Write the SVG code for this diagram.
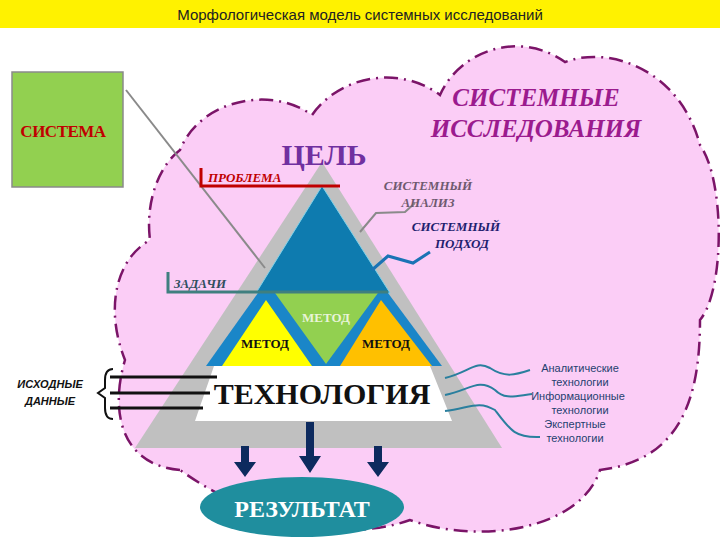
<svg xmlns="http://www.w3.org/2000/svg" width="720" height="540" viewBox="0 0 720 540">
<style>
.serif{font-family:"Liberation Serif","DejaVu Serif",serif;font-weight:bold}
.sans{font-family:"Liberation Sans","DejaVu Sans",sans-serif}
.tech{font-family:"Liberation Sans",sans-serif;font-size:11px;fill:#1F3F6F;text-anchor:middle}
.arrow{fill:#0D2A5E}
</style>
<rect width="720" height="540" fill="#fff"/>
<rect x="0" y="0" width="720" height="28" fill="#FFF200"/>
<text x="360" y="20" class="sans" font-size="15" text-anchor="middle" fill="#222">Морфологическая модель системных исследований</text>
<g id="cloud">
<path d="M180,470 C120,465 110,410 125,360 C105,310 115,260 150,240 C145,200 160,165 180,150 C200,100 270,85 312,115 C340,75 400,65 440,95 C460,50 520,30 565,62 C610,45 680,70 700,145 C725,180 725,290 700,320 C700,400 680,460 600,470 C580,530 480,545 410,520 C340,545 250,520 180,470 Z" fill="#FBCDF6" stroke="#7B1468" stroke-width="2.5" stroke-dasharray="14 6 2 6"/>
</g>
<g id="pyramid">
<polygon points="322,162 135,448 502,448" fill="#C0C0C0"/>
<polygon points="322,186 256,293 390,293" fill="#0E7BAF" stroke="#7FD1E8" stroke-width="1"/>
<polygon points="258,293 388,293 442,366 206,366" fill="#1A86C8"/>
<polygon points="266,300 222,366 312,366" fill="#FFFF00"/>
<polygon points="275,293 378,293 326,364" fill="#92D050"/>
<polygon points="381,300 340,366 432,366" fill="#FFC000"/>
<text x="326" y="322" class="serif" font-size="13" fill="#E8F4D8" text-anchor="middle">МЕТОД</text>
<text x="265" y="348" class="serif" font-size="13" fill="#111" text-anchor="middle">МЕТОД</text>
<text x="386" y="348" class="serif" font-size="13" fill="#111" text-anchor="middle">МЕТОД</text>
</g>
<g id="tech">
<polygon points="214,366 430,366 452,421 195,421" fill="#fff"/>
<text x="322" y="404" class="serif" font-size="30" fill="#111" text-anchor="middle">ТЕХНОЛОГИЯ</text>
</g>
<g id="goal"><text x="324" y="165" class="serif" font-size="30" fill="#7030A0" text-anchor="middle">ЦЕЛЬ</text></g>
<g id="sysres">
<text x="536" y="106" class="serif" font-size="25" font-style="italic" fill="#9B1B8E" text-anchor="middle">СИСТЕМНЫЕ</text>
<text x="536" y="137" class="serif" font-size="25" font-style="italic" fill="#9B1B8E" text-anchor="middle">ИССЛЕДОВАНИЯ</text>
</g>
<g id="sistema">
<rect x="12" y="72" width="111" height="115" fill="#92D050" stroke="#8A8A8A" stroke-width="1.5"/>
<text x="63" y="137" class="serif" font-size="17" fill="#C00000" text-anchor="middle" letter-spacing="-0.5">СИСТЕМА</text>
</g>
<g id="connectors" fill="none">
<line x1="126" y1="90" x2="265" y2="268" stroke="#8A8A8A" stroke-width="2"/>
<polyline points="201,168 201,186 340,186" stroke="#C00000" stroke-width="3"/>
<polyline points="168,272 168,292 388,292" stroke="#3F7F7F" stroke-width="3"/>
<polyline points="360,232 376,213 405,212 415,203" stroke="#8A8A8A" stroke-width="2"/>
<polyline points="372,270 388,256 413,263 430,252" stroke="#1A73B5" stroke-width="3"/>
<path d="M113,369 Q105,369 105,380 L105,388 L98,393 L105,398 L105,408 Q105,419 113,419" stroke="#111" stroke-width="2"/>
<line x1="110" y1="377" x2="217" y2="377" stroke="#111" stroke-width="3"/>
<line x1="110" y1="393" x2="210" y2="393" stroke="#111" stroke-width="3"/>
<line x1="110" y1="408" x2="203" y2="408" stroke="#111" stroke-width="3"/>
<path d="M445,378 C470,372 475,360 490,368 C505,378 515,375 530,370" stroke="#2A7F9E" stroke-width="2"/>
<path d="M445,395 C470,390 478,378 495,390 C505,400 515,396 532,394" stroke="#2A7F9E" stroke-width="2"/>
<path d="M445,411 C470,408 478,400 495,410 C510,430 515,438 540,437" stroke="#2A7F9E" stroke-width="2"/>
<polygon class="arrow" points="241,446 249,446 249,462 256,462 245,477 234,462 241,462"/>
<polygon class="arrow" points="306,422 314,422 314,456 321,456 310,473 299,456 306,456"/>
<polygon class="arrow" points="374,446 382,446 382,462 389,462 378,477 367,462 374,462"/>
</g>
<g id="labels">
<text x="208" y="182" class="serif" font-size="13" font-style="italic" fill="#C00000">ПРОБЛЕМА</text>
<text x="174" y="288" class="serif" font-size="13" font-style="italic" fill="#2F4F5F">ЗАДАЧИ</text>
<text x="428" y="190" class="serif" font-size="13" font-style="italic" fill="#6F5A6F" text-anchor="middle">СИСТЕМНЫЙ</text>
<text x="428" y="207" class="serif" font-size="13" font-style="italic" fill="#6F5A6F" text-anchor="middle">АНАЛИЗ</text>
<text x="456" y="231" class="serif" font-size="13" font-style="italic" fill="#1F1F6F" text-anchor="middle">СИСТЕМНЫЙ</text>
<text x="462" y="248" class="serif" font-size="13" font-style="italic" fill="#1F1F6F" text-anchor="middle">ПОДХОД</text>
<text x="50" y="388" class="sans" font-size="11" font-style="italic" font-weight="bold" fill="#111" text-anchor="middle">ИСХОДНЫЕ</text>
<text x="50" y="405" class="sans" font-size="11" font-style="italic" font-weight="bold" fill="#111" text-anchor="middle">ДАННЫЕ</text>
<text x="580" y="372" class="tech">Аналитические</text>
<text x="580" y="386" class="tech">технологии</text>
<text x="578" y="400" class="tech">Информационные</text>
<text x="580" y="414" class="tech">технологии</text>
<text x="575" y="428" class="tech">Экспертные</text>
<text x="575" y="442" class="tech">технологии</text>
</g>
<g id="result">
<ellipse cx="302" cy="507" rx="102" ry="30" fill="#1F8E9E"/>
<text x="302" y="517" class="serif" font-size="24" fill="#fff" text-anchor="middle">РЕЗУЛЬТАТ</text>
</g>
</svg>
